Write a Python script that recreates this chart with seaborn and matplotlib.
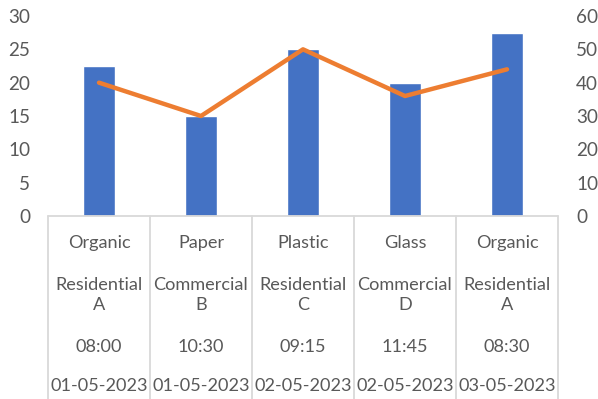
import matplotlib
matplotlib.use("Agg")
import matplotlib.pyplot as plt
import seaborn as sns
import pandas as pd
import numpy as np

# Collection records
waste_types = ["Organic", "Paper", "Plastic", "Glass", "Organic"]
areas = ["Residential\nA", "Commercial\nB", "Residential\nC", "Commercial\nD", "Residential\nA"]
times = ["08:00", "10:30", "09:15", "11:45", "08:30"]
dates = ["01-05-2023", "01-05-2023", "02-05-2023", "02-05-2023", "03-05-2023"]
weight_values = [22.5, 15, 25, 20, 27.5]
volume_values = [40, 30, 50, 36, 44]

left_ticks = [0, 5, 10, 15, 20, 25, 30]
right_ticks = [0, 10, 20, 30, 40, 50, 60]

df = pd.DataFrame({
    "pos": np.arange(len(waste_types)),
    "weight": weight_values,
    "volume": volume_values,
})

sns.set_theme(style="white")
plt.rcParams["font.family"] = ["Lato", "DejaVu Sans"]

text_color = "#595959"
grid_color = "#D9D9D9"
fs = 13.1
tick_fs = 13.6

W, H = 598, 399
fig = plt.figure(figsize=(W / 100, H / 100), dpi=100)
ax = fig.add_axes([48 / W, (H - 216) / H, 510 / W, 200 / H])

sns.barplot(data=df, x="pos", y="weight", color="#4472C4", width=0.31,
            saturation=1, ax=ax, native_scale=True)
ax.set_xlim(-0.5, len(waste_types) - 0.5)
ax.set_ylim(0, 30)
ax.set_yticks(left_ticks)
ax.set_yticklabels([str(t) for t in left_ticks])

ax2 = ax.twinx()
sns.lineplot(data=df, x="pos", y="volume", color="#ED7D31", linewidth=3.2,
             ax=ax2, solid_capstyle="round")
ax2.set_ylim(0, 60)
ax2.set_yticks(right_ticks)
ax2.set_yticklabels([str(t) for t in right_ticks])

for a in (ax, ax2):
    for s in a.spines.values():
        s.set_visible(False)
    a.set_xlabel("")
    a.set_ylabel("")
    a.tick_params(axis="y", length=0, labelsize=tick_fs, labelcolor=text_color, pad=13)
    a.grid(False)
ax.set_xticks([])
ax2.set_xticks([])

# Category table below the plot
trans = ax.get_xaxis_transform()
ax.plot([-0.5, len(waste_types) - 0.5], [0, 0], color=grid_color, lw=1.3,
        transform=trans, clip_on=False)
for b in np.arange(-0.5, len(waste_types), 1.0):
    ax.plot([b, b], [0, -183 / 200], color=grid_color, lw=1.3,
            transform=trans, clip_on=False)

def ax_y(py):
    return (216 - py) / 200

for i in range(len(waste_types)):
    ax.text(i, ax_y(243), waste_types[i], transform=trans, ha="center", va="center",
            fontsize=fs, color=text_color)
    ax.text(i, ax_y(295), areas[i], transform=trans, ha="center", va="center",
            fontsize=fs, color=text_color, linespacing=1.35)
    ax.text(i, ax_y(347), times[i], transform=trans, ha="center", va="center",
            fontsize=fs, color=text_color)
    ax.text(i, ax_y(386), dates[i], transform=trans, ha="center", va="center",
            fontsize=fs, color=text_color)

fig.savefig("out.png", dpi=100)
